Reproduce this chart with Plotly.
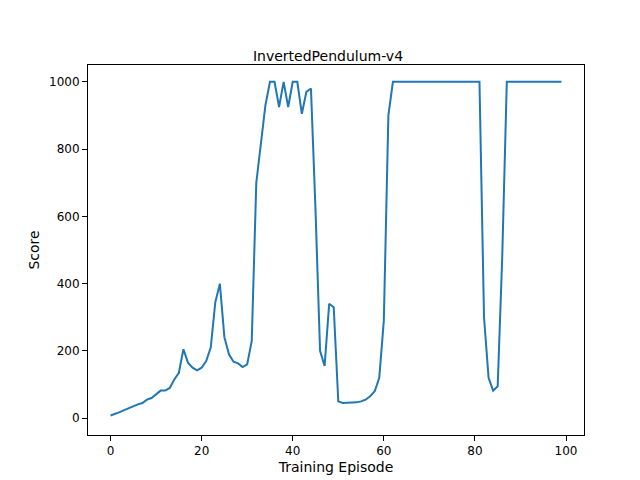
import plotly.graph_objects as go

scores = [8,12,18,24,30,36,41,45,55,60,70,82,82,90,115,135,205,165,150,142,150,
          170,210,345,400,240,190,168,163,152,160,230,700,820,930,1000,1000,925,1000,925,1000,
          1000,905,970,980,620,200,155,340,330,50,45,45,45,47,50,55,65,80,120,290,
          900,1000] + [1000]*19 + [300,120,82,95,480] + [1000]*13
episodes = list(range(len(scores)))

fig = go.Figure(go.Scatter(x=episodes, y=scores, mode="lines",
                           line=dict(color="#1f77b4", width=2)))
fig.update_layout(
    width=640, height=480, plot_bgcolor="white", paper_bgcolor="white",
    margin=dict(l=80, r=64, t=57, b=53, autoexpand=False),
    title=dict(text="InvertedPendulum-v4", x=0.5, xanchor="center", y=0.91,
               font=dict(size=14, color="black")),
    font=dict(family="DejaVu Sans", size=12, color="black"), showlegend=False)
ax = dict(showline=True, linecolor="black", mirror=True, ticks="outside",
          showgrid=False, zeroline=False, tickcolor="black")
fig.update_xaxes(title_text="Training Episode", title_standoff=4, range=[-4.95, 103.95],
                 tickvals=[0,20,40,60,80,100], **ax)
fig.update_yaxes(title_text="Score", title_standoff=6, range=[-50, 1050],
                 tickvals=[0,200,400,600,800,1000], **ax)
fig.write_html("out.html")
